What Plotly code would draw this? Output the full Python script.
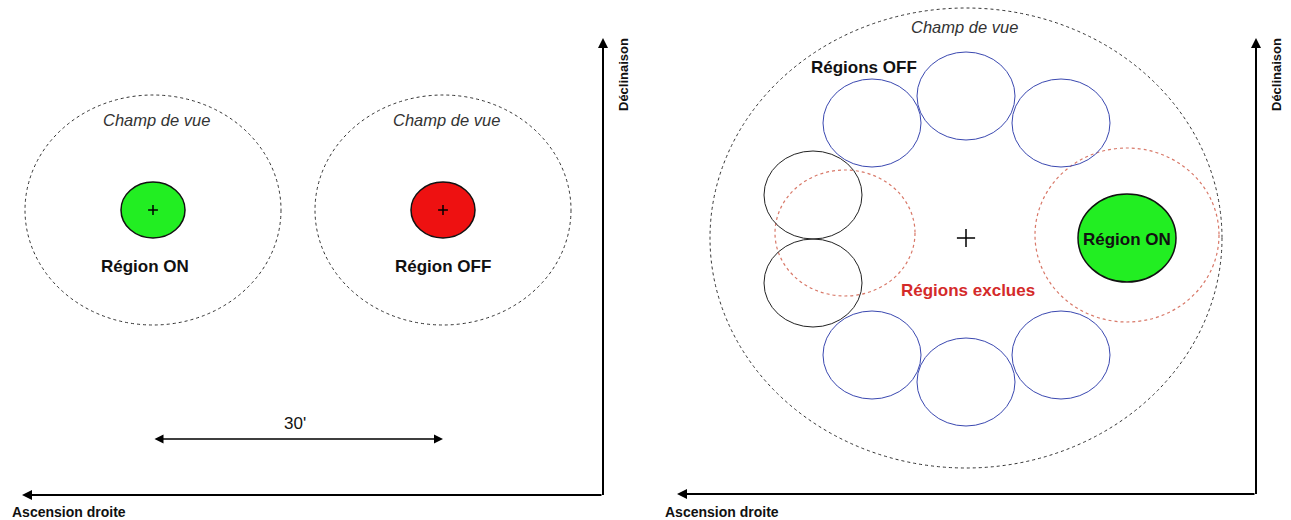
import plotly.graph_objects as go

W, H = 1291, 520

# ---------------- left panel : ON / OFF pair ----------------
pair_labels = ["Région ON", "Région OFF"]
pair_x = [153, 443]
pair_y = [210, 210]
pair_fill = ["#22ee22", "#ee1111"]
pair_rx, pair_ry = 32, 28
pair_fov_rx, pair_fov_ry = 128, 115
scale_label = "30'"
scale_y = 439
left_axis_x = [22, 603]
left_axis_y = [38, 495]

# ---------------- right panel : ring background ----------------
fov_cx, fov_cy = 966, 238
fov_rx, fov_ry = 256, 230
on_cx, on_cy = 1127, 238
on_rx, on_ry = 49, 44
off_x = [872, 966, 1061, 872, 966, 1061]
off_y = [123, 96, 123, 355, 382, 355]
rej_x = [813, 813]
rej_y = [195, 283]
ring_rx, ring_ry = 49, 44
excl_x = [845, 1127]
excl_y = [233, 235]
excl_rx = [70, 92]
excl_ry = [63, 87]
right_axis_x = [677, 1256]
right_axis_y = [38, 494]

FONT = "Liberation Sans, Arial, sans-serif"

fig = go.Figure()
shapes = []
ann = []


def ellipse(cx, cy, rx, ry, color, width=1, dash="solid", fill=None):
    d = dict(type="circle", xref="x", yref="y",
             x0=cx - rx, x1=cx + rx, y0=cy - ry, y1=cy + ry,
             line=dict(color=color, width=width, dash=dash), layer="below")
    if fill:
        d["fillcolor"] = fill
    shapes.append(d)


def text(x, y, s, size=15, color="#111", bold=False, italic=False, angle=0):
    if bold:
        s = "<b>" + s + "</b>"
    if italic:
        s = "<i>" + s + "</i>"
    ann.append(dict(x=x, y=y, xref="x", yref="y", text=s, showarrow=False,
                    xanchor="center", yanchor="middle", textangle=angle,
                    font=dict(family=FONT, size=size, color=color)))


def arrow(x0, y0, x1, y1, both=False, width=2):
    ann.append(dict(x=x1, y=y1, ax=x0, ay=y0, xref="x", yref="y",
                    axref="x", ayref="y", text="", showarrow=True,
                    arrowhead=2, arrowsize=1.2 if width < 2 else 1,
                    arrowwidth=width, arrowcolor="#000",
                    arrowside="end+start" if both else "end",
                    startarrowhead=2, startarrowsize=1.2 if width < 2 else 1))


# ---- left panel
for lab, cx, cy, fc in zip(pair_labels, pair_x, pair_y, pair_fill):
    ellipse(cx, cy, pair_fov_rx, pair_fov_ry, "#333", 1, "3px,3px")
    ellipse(cx, cy, pair_rx, pair_ry, "#111", 1.5, "solid", fc)
    text(cx + 3, cy - 90, "Champ de vue", size=16.5, color="#333", italic=True)
    text(cx - 8 if lab.endswith("ON") else cx, cy + 56, lab, size=17, bold=True)

fig.add_trace(go.Scatter(x=pair_x, y=pair_y, mode="markers",
                         marker=dict(symbol="cross-thin", size=7,
                                     line=dict(width=1.5, color="#000")),
                         hoverinfo="skip", showlegend=False))

arrow(pair_x[0], scale_y, pair_x[1], scale_y, both=True, width=1.5)
text((pair_x[0] + pair_x[1]) / 2 - 3, scale_y - 16, scale_label, size=17)

# axes of left panel
shapes.append(dict(type="line", xref="x", yref="y", x0=left_axis_x[1], x1=left_axis_x[1],
                   y0=left_axis_y[1], y1=left_axis_y[0] + 6, line=dict(color="#000", width=2)))
arrow(left_axis_x[1], left_axis_y[1], left_axis_x[0], left_axis_y[1])
arrow(left_axis_x[1], left_axis_y[1], left_axis_x[1], left_axis_y[0])
text(69, 512, "Ascension droite", size=14, bold=True)
text(623, 75, "Déclinaison", size=13, bold=True, angle=-90)

# ---- right panel
ellipse(fov_cx, fov_cy, fov_rx, fov_ry, "#333", 1, "3px,3px")
for cx, cy, rx, ry in zip(excl_x, excl_y, excl_rx, excl_ry):
    ellipse(cx, cy, rx, ry, "#d87868", 1.2, "3px,3px")
for cx, cy in zip(off_x, off_y):
    ellipse(cx, cy, ring_rx, ring_ry, "#3a48b0", 1)
for cx, cy in zip(rej_x, rej_y):
    ellipse(cx, cy, ring_rx, ring_ry, "#222", 1)
ellipse(on_cx, on_cy, on_rx, on_ry, "#111", 1.5, "solid", "#22ee22")

fig.add_trace(go.Scatter(x=[fov_cx], y=[fov_cy], mode="markers",
                         marker=dict(symbol="cross-thin", size=13,
                                     line=dict(width=1.5, color="#000")),
                         hoverinfo="skip", showlegend=False))

text(fov_cx - 2, 27, "Champ de vue", size=16.5, color="#333", italic=True)
text(864, 67, "Régions OFF", size=17, bold=True)
text(968, 290, "Régions exclues", size=17, color="#d42a2a", bold=True)
text(on_cx, on_cy + 1, "Région ON", size=17, bold=True)

shapes.append(dict(type="line", xref="x", yref="y", x0=right_axis_x[1], x1=right_axis_x[1],
                   y0=right_axis_y[1], y1=right_axis_y[0] + 6, line=dict(color="#000", width=2)))
arrow(right_axis_x[1], right_axis_y[1], right_axis_x[0], right_axis_y[1])
arrow(right_axis_x[1], right_axis_y[1], right_axis_x[1], right_axis_y[0])
text(722, 512, "Ascension droite", size=14, bold=True)
text(1276, 75, "Déclinaison", size=13, bold=True, angle=-90)

fig.update_layout(
    width=W, height=H, margin=dict(l=0, r=0, t=0, b=0),
    paper_bgcolor="white", plot_bgcolor="white",
    xaxis=dict(range=[0, W], visible=False, fixedrange=True),
    yaxis=dict(range=[H, 0], visible=False, fixedrange=True),
    shapes=shapes, annotations=ann, showlegend=False,
)

fig.write_html("out.html", config={"displayModeBar": False},
               post_script="document.body.style.margin='0';document.body.style.overflow='hidden';")
